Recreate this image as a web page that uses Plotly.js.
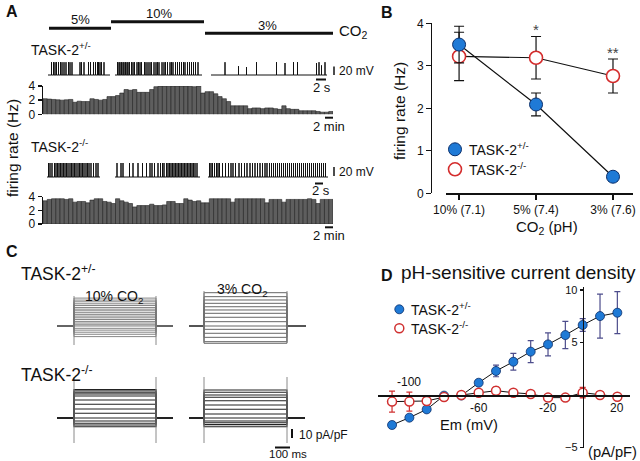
<!DOCTYPE html>
<html><head><meta charset="utf-8">
<script src="https://cdn.plot.ly/plotly-3.0.1.min.js"></script>
<style>html,body{margin:0;padding:0;background:#fff}#chart{width:640px;height:461px}</style>
</head><body><div id="chart"></div>
<script>
// ================= DATA =================
// Panel A: firing-rate histograms (Hz per bin)
const hetRate = [2.2,2.15,2.1,2.05,2.0,2.05,2.1,1.7,1.85,1.8,1.8,2.2,2.1,2.0,2.1,2.5,2.5,2.65,3.0,3.5,3.4,3.5,3.1,3.1,3.1,3.5,3.9,4.0,4.0,3.95,4.0,4.0,4.0,4.0,3.95,3.9,4.0,3.0,3.2,3.2,2.9,2.5,2.2,1.8,1.2,1.2,1.2,1.2,0.8,0.9,0.9,0.8,0.9,0.9,0.8,0.7,1.2,0.8,0.7,0.7,0.5,0.5,0.5,0.5,0.4,0.3,0.3,0.4];
const koRate = [3.4,3.6,3.7,3.7,3.7,3.6,3.7,3.2,3.3,3.3,3.1,3.5,3.7,3.7,3.3,3.2,3.0,3.7,3.4,3.2,3.0,2.5,2.7,2.7,2.7,2.9,2.7,2.7,2.8,3.3,3.3,3.0,3.0,3.7,3.5,3.3,3.4,3.1,3.1,3.7,3.7,3.7,3.7,3.7,3.2,3.7,3.7,3.7,3.7,3.7,3.7,3.7,3.1,3.6,3.6,3.6,3.2,3.6,3.6,3.6,3.6,3.6,3.7,3.6,3.0,3.6,3.6,3.6];
const co2Labels = ['5%','10%','3%'];
// Panel A: spike times (s) within each recording segment
const hetSpikes5 = [0.7,1.1,1.4,1.7,2.1,2.5,2.8,3.2,3.6,4.1,4.4,4.8,6.4,6.7,7.2,8.1,8.5,9.1,9.5,9.9,10.1,10.4,10.7,11.2];
const hetSpikes10 = [0.5,0.8,1.0,1.3,1.6,1.8,2.1,2.4,2.6,2.9,3.3,3.6,3.9,4.4,4.7,5.0,5.3,5.9,6.2,6.6,7.0,7.3,7.8,8.2,8.5,8.8,9.4,9.8,10.1,10.5,11.0,11.3,11.6,12.1,12.5,12.9,13.3,13.7,14.0,14.5,14.9,15.3,15.7,16.1,16.6];
const hetSpikes3 = [2.8,5.5,7.1,9.1,13.1,14.8,16.5,17.3,21.1,21.6,22.1,22.8];
const hetSpikes3Amp = [32,22,20,32,32,30,32,32,30,32,24,32];
const koSpikes5 = [0.3,0.6,1.0,1.5,1.8,2.1,2.4,2.7,3.0,3.3,3.6,3.9,4.2,4.6,4.9,5.2,5.5,5.8,6.2,6.5,6.8,7.1,7.4,7.8,8.1,8.4,8.8,9.3,9.8,10.2];
const koSpikes10 = [0.4,1.2,1.6,2.9,3.6,4.6,5.5,6.3,7.0,7.4,7.9,8.6,9.1,9.5,9.8,10.3,10.6,10.9,11.2,11.5,11.8,12.1,12.4,12.7,13.0,13.3,13.6,13.9,14.2,14.5,14.8,15.1,15.4,15.7,16.0,16.4];
const koSpikes3 = [0.3,0.6,0.9,1.3,1.7,2.0,2.3,2.9,3.5,4.1,4.6,5.0,5.5,6.2,6.7,7.3,7.8,8.4,8.9,9.4,9.9,10.4,10.9,11.4,11.8,12.3,12.7,13.1,13.5,13.9,14.3,14.7,15.1,15.5,15.9,16.3,16.7,17.1,17.5,17.9,18.3,18.7,19.1,19.5,19.9,20.3,20.7,21.1,21.5,21.9,22.3,22.7,23.1,23.5];
const spikeAmpHet = 32, spikeAmpKo = 35; // mV

// Panel B
const bCategories = ['10% (7.1)','5% (7.4)','3% (7.6)'];
const bHetMean = [3.5, 2.09, 0.39];
const bHetSem  = [0.43, 0.27, 0.1];
const bKoMean  = [3.22, 3.19, 2.76];
const bKoSem   = [0.57, 0.5, 0.4];
const bStars   = ['', '*', '**'];

// Panel C: steady-state current levels (pA/pF) for each voltage step
const cHet10 = [31,28.8,26.9,24.7,22.8,20.6,18.7,16.9,14.8,12.9,11.0,9.1,7.2,5.1,3.3,1.4,-0.5,-2.6,-4.6,-6.9,-9.2,-11.8];
const cHet3  = [37,32.6,28.9,25.2,21.4,17.8,14.1,9.7,4.8,0.8,-3.7,-8.1,-12.6,-17.4,-19.2];
const cKo10  = [31.5,30,28.1,26.7,24.4,20,15.2,10,5.2,0,-3.3,-5.9,-7.8,-9.7];
const cKo3   = [31.1,28.6,25.6,23.0,19.2,14.4,9.7,4.4,0,-3.3,-5.2,-7.4,-9.7];

// Panel D: I-V relation
const ivVoltage = [-110,-100,-90,-80,-70,-60,-50,-40,-30,-20,-10,0,10,20];
const ivHet    = [-2.86,-2.16,-1.37,-0.06,-0.05,1.17,2.29,3.17,4.13,4.82,5.71,6.67,7.52,7.84];
const ivHetSem = [0.3,0.25,0.2,0.1,0.1,0.25,0.55,0.8,1.05,1.1,1.3,0.6,2.1,2.0];
const ivKo     = [-0.63,-0.63,-0.57,-0.2,0,0.22,0.41,0.22,0.1,-0.25,-0.25,0.22,0,-0.16];
const ivKoSem  = [1.0,0.9,0.3,0.1,0.1,0.15,0.35,0.15,0.15,0.2,0.2,0.5,0.15,0.15];
const ivTickVals = [-100,-60,-20,20];
const ivYTicks = [-5,5,10];

// ================= LAYOUT HELPERS =================
const W=640, H=461;
const FONT = 'Liberation Sans, Arial, Helvetica, sans-serif';
const X = p => p/W;
const Y = p => 1 - p/H;
const dX = (a,b) => [X(a), X(b)];
const dY = (top,bottom) => [Y(bottom), Y(top)];
const INK = '#111';

function hidden(domain, range){ return {domain, range, visible:false, fixedrange:true}; }

function spikeTrace(segs, amps, offsets, durs, defAmp, xa, ya){
  const x=[], y=[];
  segs.forEach((times,i)=>{
    const o = offsets[i];
    x.push(o); y.push(0);
    times.forEach((t,j)=>{
      const a = amps[i] ? amps[i][j] : defAmp;
      x.push(o+t, o+t, o+t); y.push(0, a, 0);
    });
    x.push(o+durs[i]); y.push(0);
    x.push(null); y.push(null);
  });
  return {type:'scatter', mode:'lines', x, y, xaxis:xa, yaxis:ya,
    line:{color:INK, width:1}, hoverinfo:'skip', showlegend:false};
}

function stepTrace(levels, pre, dur, post, xa, ya, color, width){
  const x=[], y=[];
  levels.forEach(L=>{
    x.push(-pre, 0, 0, dur, dur, dur+post, null);
    y.push(0, 0, L, L, 0, 0, null);
  });
  return {type:'scatter', mode:'lines', x, y, xaxis:xa, yaxis:ya,
    line:{color, width}, hoverinfo:'skip', showlegend:false};
}

const traces = [];
const shapes = [];
const annotations = [];
function ann(text, x, y, size, o){
  annotations.push(Object.assign({text, xref:'paper', yref:'paper', x:X(x), y:Y(y),
    showarrow:false, xanchor:'center', yanchor:'middle',
    font:{size, color:INK, family:FONT}}, o||{}));
}
function line(x0,y0,x1,y1,w,color){
  shapes.push({type:'line', xref:'paper', yref:'paper', x0:X(x0), y0:Y(y0), x1:X(x1), y1:Y(y1),
    line:{color:color||INK, width:w}});
}
function circ(cx,cy,r,fill,stroke,w){
  shapes.push({type:'circle', xref:'paper', yref:'paper', x0:X(cx-r), x1:X(cx+r), y0:Y(cy+r), y1:Y(cy-r),
    fillcolor:fill, line:{color:stroke, width:w}});
}

const layout = {
  width:W, height:H, margin:{l:0,r:0,t:0,b:0}, paper_bgcolor:'#fff', plot_bgcolor:'rgba(0,0,0,0)',
  showlegend:false, bargap:0, font:{family:FONT, color:INK}
};

// ===== Panel A =====
layout.xaxis  = hidden(dX(48,327), [0, (327-48)/5]);
layout.yaxis  = hidden(dY(58,78), [-7.5, 42.5]);
traces.push(spikeTrace([hetSpikes5, hetSpikes10, hetSpikes3], [null,null,hetSpikes3Amp],
  [0, 13.4, 32.6], [12.4, 17.4, 23.2], spikeAmpHet, 'x', 'y'));
layout.xaxis3 = hidden(dX(47,328), [0, (328-47)/5]);
layout.yaxis3 = hidden(dY(160,180), [-7.5, 42.5]);
traces.push(spikeTrace([koSpikes5, koSpikes10, koSpikes3], [null,null,null],
  [0, 13.6, 32.2], [10.6, 17, 24], spikeAmpKo, 'x3', 'y3'));

function histAxes(n, top, bottom){
  layout['xaxis'+n] = {domain:dX(43,333), range:[-0.5, hetRate.length-0.5], visible:false, anchor:'y'+n, fixedrange:true};
  layout['yaxis'+n] = {domain:dY(top,bottom), range:[0,4], anchor:'x'+n, showline:true, linewidth:1.5, linecolor:INK,
    ticks:'outside', ticklen:4, tickwidth:1.5, tickcolor:INK, tickvals:[0,2,4], showgrid:false, zeroline:false,
    tickfont:{size:12, family:FONT, color:INK}, fixedrange:true};
}
histAxes(2, 86, 114.3);
histAxes(4, 196.7, 224);
const barStyle = {color:'#5e5e5e', line:{color:'#222', width:0.6}};
traces.push({type:'bar', x:hetRate.map((_,i)=>i), y:hetRate, xaxis:'x2', yaxis:'y2', marker:barStyle, hoverinfo:'skip'});
traces.push({type:'bar', x:koRate.map((_,i)=>i), y:koRate, xaxis:'x4', yaxis:'y4', marker:barStyle, hoverinfo:'skip'});

line(49,28.3,111,28.3,3); line(111,21.7,204,21.7,3); line(205,33.3,333,33.3,3);
ann(co2Labels[0], 80, 19, 13); ann(co2Labels[1], 159, 13.5, 13); ann(co2Labels[2], 267, 25.5, 13);
ann('CO<sub>2</sub>', 337, 32, 15, {xanchor:'left'});
ann('<b>A</b>', 4, 12, 16, {xanchor:'left'});
ann('TASK-2<sup>+/-</sup>', 29, 49, 14, {xanchor:'left'});
ann('TASK-2<sup>-/-</sup>', 29, 146, 14, {xanchor:'left'});
ann('firing rate (Hz)', 12, 148, 15.5, {textangle:-90});
line(334,66.5,334,75,1.5); ann('20 mV', 337, 71, 12, {xanchor:'left'});
line(316,79.5,326,79.5,2); ann('2 s', 322, 87.5, 13);
line(325,117.7,333,117.7,2); ann('2 min', 329, 126, 13);
line(334,167,334,176,1.5); ann('20 mV', 337, 171.5, 12, {xanchor:'left'});
line(315,183.5,323,183.5,2); ann('2 s', 321, 190, 13);
line(325,227.3,333,227.3,2); ann('2 min', 329, 235.5, 13);

// ===== Panel B =====
layout.xaxis5 = {domain:dX(446,633), range:[-0.17,2.26], anchor:'y5', showline:true, linewidth:1.2, linecolor:INK,
  ticks:'outside', ticklen:5, tickwidth:1.2, tickcolor:INK, tickvals:[0,1,2], ticktext:bCategories,
  tickfont:{size:12, family:FONT, color:INK}, showgrid:false, zeroline:false, fixedrange:true};
layout.yaxis5 = {domain:dY(23.3,193.3), range:[0,4], anchor:'free', position:X(431), showline:true, linewidth:1.2, linecolor:INK,
  ticks:'outside', ticklen:5, tickwidth:1.2, tickcolor:INK, tickvals:[0,1,2,3,4],
  tickfont:{size:12, family:FONT, color:INK}, showgrid:false, zeroline:false, fixedrange:true};
traces.push({type:'scatter', mode:'lines+markers', x:[0,1,2], y:bKoMean, xaxis:'x5', yaxis:'y5',
  error_y:{type:'data', array:bKoSem, color:INK, thickness:1.2, width:5},
  line:{color:INK, width:1.2}, marker:{size:13, color:'#ffffff', line:{color:'#d42c2c', width:1.6}}, hoverinfo:'skip'});
traces.push({type:'scatter', mode:'lines+markers', x:[0,1,2], y:bHetMean, xaxis:'x5', yaxis:'y5',
  error_y:{type:'data', array:bHetSem, color:INK, thickness:1.2, width:5},
  line:{color:INK, width:1.2}, marker:{size:13, color:'#1f7ad6', line:{color:'#0b2f6b', width:1}}, hoverinfo:'skip'});
bStars.forEach((s,i)=>{ if(s) annotations.push({text:s, xref:'x5', yref:'y5', x:i, y:bKoMean[i]+bKoSem[i],
  yanchor:'bottom', yshift:-4, showarrow:false, font:{size:15, color:'#444', family:FONT}}); });
ann('<b>B</b>', 379, 13, 16, {xanchor:'left'});
ann('firing rate (Hz)', 400, 111, 15.5, {textangle:-90});
ann('CO<sub>2</sub> (pH)', 547, 227, 15);
circ(455,149.3,6.5,'#1f7ad6','#0b2f6b',1); ann('TASK-2<sup>+/-</sup>', 467, 149, 14, {xanchor:'left'});
circ(455,169.3,6.5,'#ffffff','#d42c2c',1.6); ann('TASK-2<sup>-/-</sup>', 467, 169, 14, {xanchor:'left'});

// ===== Panel C =====  (0.15 px per ms, 0.9 px per pA/pF)
layout.xaxis6 = hidden(dX(57,173), [-113,660]);
layout.yaxis6 = hidden(dY(285,350), [(326-350)/0.9, (326-285)/0.9]);
layout.xaxis7 = hidden(dX(189,306), [-100,680]);
layout.yaxis7 = hidden(dY(285,350), [(326-350)/0.9, (326-285)/0.9]);
layout.xaxis8 = hidden(dX(57,173), [-113,660]);
layout.yaxis8 = hidden(dY(370,450), [(418-450)/0.9, (418-370)/0.9]);
layout.xaxis9 = hidden(dX(189,306), [-100,680]);
layout.yaxis9 = hidden(dY(370,450), [(418-450)/0.9, (418-370)/0.9]);
[[74,296,345],[156,296,345],[204,291,343],[287,291,343],[74,377,443],[156,377,443],[204,377,443],[287,377,443]]
  .forEach(v=>line(v[0],v[1],v[0],v[2],1,'#8a8a8a'));
traces.push(stepTrace(cHet10, 113, 547, 113, 'x6','y6', '#666', 0.8));
traces.push(stepTrace(cHet3, 100, 553, 127, 'x7','y7', '#555', 0.9));
traces.push(stepTrace(cKo10, 113, 547, 113, 'x8','y8', '#222', 1.1));
traces.push(stepTrace(cKo3, 100, 553, 120, 'x9','y9', '#222', 1.1));
ann('<b>C</b>', 4, 251, 16, {xanchor:'left'});
ann('TASK-2<sup>+/-</sup>', 19, 273, 17.5, {xanchor:'left'});
ann('TASK-2<sup>-/-</sup>', 19, 374, 17.5, {xanchor:'left'});
ann('10% CO<sub>2</sub>', 83, 297, 14, {xanchor:'left'});
ann('3% CO<sub>2</sub>', 215, 290, 14, {xanchor:'left'});
line(292,429,292,438,2); ann('10 pA/pF', 297, 434.5, 12, {xanchor:'left'});
line(275,447.5,290,447.5,2); ann('100 ms', 288, 454, 11.5);

// ===== Panel D =====
layout.xaxis10 = {domain:dX(378,630), range:[-118.1,27.3], anchor:'free', position:Y(395), showline:true, linewidth:1.5,
  linecolor:INK, ticks:'', showticklabels:false, showgrid:false, zeroline:false, fixedrange:true};
layout.yaxis10 = {domain:dY(287,448), range:[-5.05,10.29], anchor:'free', position:X(582.7), showline:true, linewidth:1.5,
  linecolor:INK, ticks:'outside', ticklen:3, tickwidth:1.5, tickcolor:INK, tickvals:ivYTicks,
  tickfont:{size:11, family:FONT, color:INK}, showgrid:false, zeroline:false, fixedrange:true};
traces.push({type:'scatter', mode:'lines+markers', x:ivVoltage, y:ivHet, xaxis:'x10', yaxis:'y10',
  error_y:{type:'data', array:ivHetSem, color:'#4d4d8c', thickness:1.2, width:3},
  line:{color:INK, width:1}, marker:{size:9, color:'#1f7ad6', line:{color:'#0b2f6b', width:0.8}}, hoverinfo:'skip'});
traces.push({type:'scatter', mode:'lines+markers', x:ivVoltage, y:ivKo, xaxis:'x10', yaxis:'y10',
  error_y:{type:'data', array:ivKoSem, color:'#d03030', thickness:1.2, width:3},
  line:{color:INK, width:1}, marker:{size:9, color:'#ffffff', line:{color:'#d03030', width:1.5}}, hoverinfo:'skip'});
ivTickVals.forEach(v=>{
  annotations.push({text:String(v), xref:'x10', yref:'paper', x:v, y:Y(v===-100?382:407.5), showarrow:false,
    xanchor:'center', yanchor:'middle', font:{size:12, color:INK, family:FONT}});
});
ann('<b>D</b>', 379, 275, 16, {xanchor:'left'});
ann('pH-sensitive current density', 518, 272, 19);
ann('Em (mV)', 469, 425, 14.7);
ann('(pA/pF)', 612.5, 452, 14.7);
circ(399.3,309.3,4.5,'#1f7ad6','#0b2f6b',0.8); ann('TASK-2<sup>+/-</sup>', 409, 309, 14, {xanchor:'left'});
circ(399.3,328.3,4.5,'#ffffff','#d03030',1.5); ann('TASK-2<sup>-/-</sup>', 409, 328, 14, {xanchor:'left'});

layout.shapes = shapes;
layout.annotations = annotations;
Plotly.newPlot('chart', traces, layout, {staticPlot:true, displayModeBar:false});
</script></body></html>
